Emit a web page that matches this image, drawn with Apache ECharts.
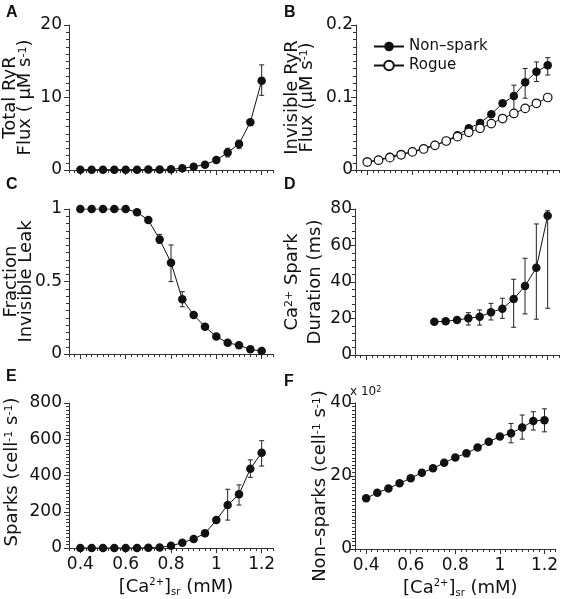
<!DOCTYPE html>
<html><head><meta charset="utf-8">
<script src="https://cdn.jsdelivr.net/npm/echarts@6/dist/echarts.min.js"></script>
<style>html,body{margin:0;padding:0;background:#fff}#c{width:561px;height:599px}</style>
</head><body><div id="c"></div>
<script>
// ---- data ----
const caSr = [0.4,0.45,0.5,0.55,0.6,0.65,0.7,0.75,0.8,0.85,0.9,0.95,1.0,1.05,1.1,1.15,1.2];
const xTickValues = [0.4,0.6,0.8,1.0,1.2];

const totalFlux   = [0.05,0.05,0.05,0.05,0.05,0.05,0.06,0.08,0.1,0.23,0.46,0.74,1.38,2.4,3.6,6.6,12.3];
const totalFluxLo = [null,null,null,null,null,null,null,null,null,null,null,null,null,1.8,3.0,6.3,10.3];
const totalFluxHi = [null,null,null,null,null,null,null,null,null,null,null,null,null,3.0,4.1,6.9,14.5];

const nonSparkFlux   = [0.0115,0.0138,0.0184,0.022,0.025,0.030,0.0345,0.040,0.048,0.0575,0.065,0.077,0.092,0.102,0.121,0.1356,0.1444];
const nonSparkFluxLo = [null,null,null,null,null,null,null,null,null,null,null,null,null,0.083,0.099,0.122,0.131];
const nonSparkFluxHi = [null,null,null,null,null,null,null,null,null,null,null,null,null,0.117,0.140,0.149,0.155];
const rogueFlux      = [0.011,0.0135,0.017,0.021,0.025,0.029,0.034,0.040,0.046,0.052,0.0575,0.064,0.071,0.078,0.085,0.092,0.100];

const fracInvisible   = [1,1,1,1,1,0.977,0.924,0.79,0.63,0.377,0.269,0.188,0.12,0.078,0.06,0.032,0.02];
const fracInvisibleLo = [null,null,null,null,null,null,null,0.763,0.499,0.326,null,null,null,null,null,null,null];
const fracInvisibleHi = [null,null,null,null,null,null,null,0.825,0.752,0.43,null,null,null,null,null,null,null];

const sparkDurX  = [0.7,0.75,0.8,0.85,0.9,0.95,1.0,1.05,1.1,1.15,1.2];
const sparkDur   = [18.2,18.5,19.2,20.1,21.0,23.4,25.4,30.7,37.8,47.8,76.3];
const sparkDurLo = [null,null,null,16.4,16.4,19.2,20.1,15.2,22.5,19.6,25.6];
const sparkDurHi = [null,null,null,23.2,24.7,28.3,31.1,41.5,53.0,71.8,79.0];

const sparks   = [0,0,0,0,0,0.5,1,3,12,29,50,81,154,237,296,437,526];
const sparksLo = [null,null,null,null,null,null,null,null,null,null,null,null,null,154,237,390,452];
const sparksHi = [null,null,null,null,null,null,null,null,null,null,null,null,null,324,348,486,592];

const nonSparks   = [13.9,15.4,16.6,18.0,19.4,20.9,22.1,23.6,25.1,26.2,27.8,29.4,30.8,31.7,33.3,35.1,35.3];
const nonSparksLo = [null,null,null,null,null,null,null,null,null,null,null,null,null,29.1,30.1,32.6,32.1];
const nonSparksHi = [null,null,null,null,null,null,null,null,null,null,null,null,null,34.4,36.7,37.6,38.4];

// ---- layout ----
const FONT = 'DejaVu Sans';
const INK = '#111';
const AX = '#333';
const panels = [
  {grid:{left:69, top:25, width:204, height:145}, max:20,  interval:10,  minor:10, xLabels:false, lm:7},
  {grid:{left:356,top:25, width:203, height:145}, max:0.2, interval:0.1, minor:10, xLabels:false, lm:3},
  {grid:{left:69, top:209,width:204, height:145}, max:1,   interval:0.5, minor:10, xLabels:false, lm:7},
  {grid:{left:355,top:209,width:204, height:146}, max:80,  interval:20,  minor:5,  xLabels:false, lm:3},
  {grid:{left:69, top:403,width:204, height:145}, max:800, interval:200, minor:10, xLabels:true,  lm:7},
  {grid:{left:355,top:403,width:204, height:146}, max:40,  interval:20,  minor:20, xLabels:true,  lm:3}
];

const grids = [], xAxes = [], yAxes = [];
const xName = '[Ca{sup|2+}]{sub|sr} (mM)';
panels.forEach((p, i) => {
  grids.push(Object.assign({containLabel:false}, p.grid));
  xAxes.push({
    gridIndex:i, type:'value', min:0.35, max:1.25, position:'bottom',
    axisLine:{show:true, onZero:false, lineStyle:{color:AX, width:1}},
    axisTick:{show:true, length:5, customValues:xTickValues, lineStyle:{color:AX}},
    axisLabel:{show:p.xLabels, customValues:xTickValues, fontFamily:FONT, fontSize:17, color:INK, margin:8},
    splitLine:{show:false},
    name: p.xLabels ? xName : '', nameLocation:'middle', nameGap:29,
    nameTextStyle:{fontFamily:FONT, fontSize:18, color:INK, lineHeight:20, padding:[0,0,0,10],
      rich:{sup:{fontFamily:FONT, fontSize:10, lineHeight:12, verticalAlign:'top', color:INK},
            sub:{fontFamily:FONT, fontSize:10, lineHeight:8, verticalAlign:'bottom', color:INK}}}
  });
  xAxes.push({
    gridIndex:i, type:'value', min:0.35, max:1.25, interval:0.025, position:'bottom',
    axisLine:{show:false, onZero:false}, axisTick:{show:true, length:3, lineStyle:{color:AX}},
    axisLabel:{show:false}, splitLine:{show:false}
  });
  yAxes.push({
    gridIndex:i, type:'value', min:0, max:p.max, interval:p.interval,
    axisLine:{show:true, onZero:false, lineStyle:{color:AX, width:1}},
    axisTick:{show:true, length:5, lineStyle:{color:AX}},
    minorTick:{show:true, splitNumber:p.minor, length:3, lineStyle:{color:AX}},
    axisLabel:{fontFamily:FONT, fontSize:17, color:INK, margin:p.lm},
    splitLine:{show:false}
  });
});

function pairs(xs, ys){ return xs.map((x,i)=>[x, ys[i]]); }
function errs(xs, lo, hi){ const out=[]; xs.forEach((x,i)=>{ if(lo[i]!=null) out.push([x, lo[i], hi[i]]); }); return out; }
function errRender(params, api){
  const x = api.value(0);
  const a = api.coord([x, api.value(1)]), b = api.coord([x, api.value(2)]);
  const w = 2.5, st = {stroke:'#222', lineWidth:1};
  return {type:'group', children:[
    {type:'line', shape:{x1:a[0],y1:a[1],x2:b[0],y2:b[1]}, style:st},
    {type:'line', shape:{x1:a[0]-w,y1:a[1],x2:a[0]+w,y2:a[1]}, style:st},
    {type:'line', shape:{x1:b[0]-w,y1:b[1],x2:b[0]+w,y2:b[1]}, style:st}
  ]};
}
function lineSeries(i, name, data, filled, z){
  return {type:'line', name:name, xAxisIndex:2*i, yAxisIndex:i, data:data, symbol:'circle', symbolSize:8.5,
    lineStyle:{color:INK, width:1}, itemStyle:{color: filled ? INK : '#fff', borderColor:INK, borderWidth: filled?0:1.2},
    emphasis:{disabled:true}, animation:false, z:z||3};
}
function errSeries(i, data){
  return {type:'custom', xAxisIndex:2*i, yAxisIndex:i, data:data, renderItem:errRender,
    encode:{x:0, y:[1,2]}, animation:false, z:2, silent:true};
}

const series = [
  lineSeries(0, 'A', pairs(caSr, totalFlux), true), errSeries(0, errs(caSr, totalFluxLo, totalFluxHi)),
  lineSeries(1, 'Non–spark', pairs(caSr, nonSparkFlux), true), errSeries(1, errs(caSr, nonSparkFluxLo, nonSparkFluxHi)),
  lineSeries(1, 'Rogue', pairs(caSr, rogueFlux), false, 4),
  lineSeries(2, 'C', pairs(caSr, fracInvisible), true), errSeries(2, errs(caSr, fracInvisibleLo, fracInvisibleHi)),
  lineSeries(3, 'D', pairs(sparkDurX, sparkDur), true), errSeries(3, errs(sparkDurX, sparkDurLo, sparkDurHi)),
  lineSeries(4, 'E', pairs(caSr, sparks), true), errSeries(4, errs(caSr, sparksLo, sparksHi)),
  lineSeries(5, 'F', pairs(caSr, nonSparks), true), errSeries(5, errs(caSr, nonSparksLo, nonSparksHi))
];

const richName = {sup:{fontFamily:FONT, fontSize:11, lineHeight:10, verticalAlign:'top', fill:INK}};
function vText(text, x, y){
  return {type:'text', x:x, y:y, rotation:Math.PI/2, silent:true,
    style:{text:text, fontFamily:FONT, fontSize:18, lineHeight:16, fill:INK, align:'center', verticalAlign:'middle', rich:richName}};
}
function letter(t, x, y){
  return {type:'text', x:x, y:y, silent:true,
    style:{text:t, fontFamily:'Liberation Sans', fontWeight:'bold', fontSize:16, fill:INK, align:'left', verticalAlign:'middle'}};
}
const graphics = [
  letter('A', 6, 13), letter('B', 284, 13), letter('C', 6, 185), letter('D', 284, 185), letter('E', 6, 377), letter('F', 284, 382),
  vText('Total RyR', 10, 97.5), vText('Flux ( µM s{sup|-1})', 25.5, 97.5),
  vText('Invisible RyR', 292, 97.5), vText('Flux (µM s{sup|-1})', 307, 97.5),
  vText('Fraction', 11, 281.5), vText('Invisible Leak', 26, 281.5),
  vText('Ca{sup|2+} Spark', 292, 282), vText('Duration (ms)', 315, 282),
  vText('Sparks (cell{sup|-1} s{sup|-1})', 12, 472),
  vText('Non–sparks (cell{sup|-1} s{sup|-1})', 320, 486),
  {type:'text', x:350, y:392, silent:true, style:{text:'x 10{sup|2}', fontFamily:FONT, fontSize:12, fill:INK, align:'left', verticalAlign:'middle',
    rich:{sup:{fontFamily:FONT, fontSize:8, lineHeight:8, verticalAlign:'top', fill:INK}}}}
];

const chart = echarts.init(document.getElementById('c'), null, {renderer:'canvas'});
chart.setOption({
  backgroundColor:'#fff', animation:false,
  grid:grids, xAxis:xAxes, yAxis:yAxes, series:series, graphic:graphics,
  legend:{data:['Non–spark','Rogue'], orient:'vertical', left:368, top:34, itemWidth:30, itemHeight:12, itemGap:4,
    textStyle:{fontFamily:FONT, fontSize:15, color:INK}, selectedMode:false}
});
</script></body></html>
